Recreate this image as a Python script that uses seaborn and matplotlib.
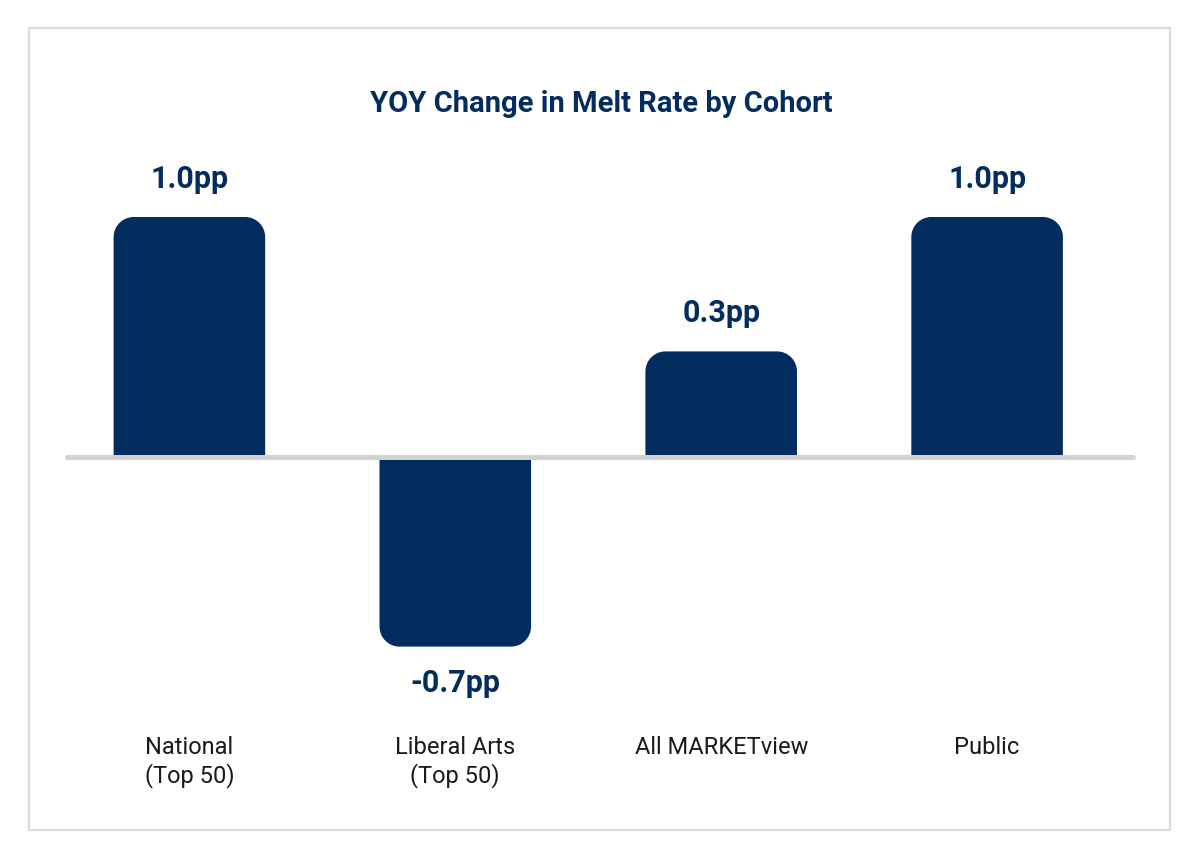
import matplotlib
matplotlib.use("Agg")
import matplotlib.pyplot as plt
from matplotlib.patches import PathPatch, Rectangle
from matplotlib.path import Path
import seaborn as sns
import pandas as pd

# Values (bar lengths as drawn, labels as printed)
cohorts = ["National\n(Top 50)", "Liberal Arts\n(Top 50)", "All MARKETview", "Public"]
bar_heights = [1.0, -0.79, 0.44, 1.0]
value_labels = ["1.0pp", "-0.7pp", "0.3pp", "1.0pp"]
title = "YOY Change in Melt Rate by Cohort"

NAVY = "#022d5e"
ZERO_GRAY = "#d2d2d2"
BORDER_GRAY = "#dcdcdc"


def rounded_bar_path(x0, w, h, rx, ry):
    """Bar outline from the baseline to h, only the outer corners rounded."""
    x1 = x0 + w
    s = 1 if h >= 0 else -1
    k = 0.5523  # bezier constant for a quarter circle
    verts = [
        (x0, 0), (x0, h - s * ry),
        (x0, h - s * ry * (1 - k)), (x0 + rx * (1 - k), h), (x0 + rx, h),
        (x1 - rx, h),
        (x1 - rx * (1 - k), h), (x1, h - s * ry * (1 - k)), (x1, h - s * ry),
        (x1, 0), (x0, 0),
    ]
    codes = [Path.MOVETO, Path.LINETO,
             Path.CURVE4, Path.CURVE4, Path.CURVE4,
             Path.LINETO,
             Path.CURVE4, Path.CURVE4, Path.CURVE4,
             Path.LINETO, Path.CLOSEPOLY]
    return Path(verts, codes)


sns.set_theme(style="white")
plt.rcParams["font.family"] = ["Roboto", "DejaVu Sans"]

df = pd.DataFrame({"cohort": cohorts, "change": bar_heights})

fig = plt.figure(figsize=(12, 8.58), dpi=100)
fig.patch.set_facecolor("white")

# axes placed so the zero line runs across the card like the original
ax = fig.add_axes([67 / 1200, 158 / 858, 1066 / 1200, 550 / 858])

sns.barplot(data=df, x="cohort", y="change", color=NAVY, saturation=1,
            width=0.57, ax=ax, zorder=2)

ax.set_xlim(-0.4603, 3.5487)
ax.set_ylim(-1.0125, 1.2792)

# swap the plain bars for ones with rounded outer corners
rx = 20 / 265.9
ry = 20 / 240
for p in list(ax.patches):
    x0, w, h = p.get_x(), p.get_width(), p.get_height()
    ax.add_patch(PathPatch(rounded_bar_path(x0, w, h, rx, ry),
                           facecolor=NAVY, edgecolor="none", lw=0, zorder=2))
    p.remove()

# value labels just outside each bar
for i, (h, lab) in enumerate(zip(bar_heights, value_labels)):
    off = 27.4 if h >= 0 else -26
    ax.annotate(lab, (i, h), xytext=(0, off), textcoords="offset points",
                ha="center", va="center", fontsize=22, fontweight="bold",
                color=NAVY)

ax.axhline(0, color=ZERO_GRAY, lw=3.6, solid_capstyle="round",
           zorder=3, clip_on=False)

sns.despine(ax=ax, left=True, bottom=True)
ax.set_xlabel("")
ax.set_ylabel("")
ax.set_yticks([])
ax.tick_params(axis="x", length=0, pad=26, labelsize=17, labelcolor="#1a1a1a")

fig.text(601 / 1200, 1 - 104 / 858, title, ha="center", va="center",
         fontsize=21, fontweight="bold", color=NAVY)

# light card border
fig.patches.append(Rectangle((29 / 1200, 1 - 830 / 858), 1141 / 1200, 802 / 858,
                             transform=fig.transFigure, fill=False,
                             edgecolor=BORDER_GRAY, lw=1.6))

fig.savefig("out.png", dpi=100, facecolor="white")
